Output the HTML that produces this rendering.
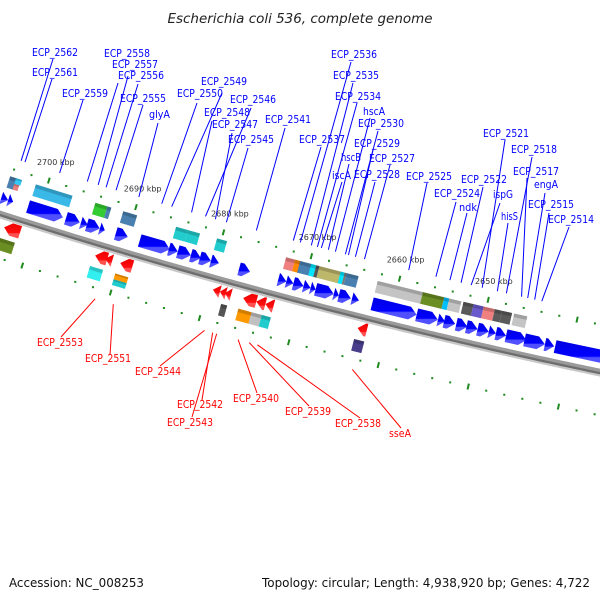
<!DOCTYPE html>
<html><head><meta charset="utf-8"><title>Escherichia coli 536 genome map</title>
<style>
html,body{margin:0;padding:0;background:#fff;}
svg{display:block;}
text{font-family:"DejaVu Sans","Liberation Sans",sans-serif;}
</style></head>
<body>
<svg id="map" width="600" height="600" viewBox="0 0 600 600" xmlns="http://www.w3.org/2000/svg">
<rect width="600" height="600" fill="#fff"/>
<text x="300" y="23" text-anchor="middle" font-size="13" font-style="italic" fill="#222" textLength="265" lengthAdjust="spacingAndGlyphs">Escherichia coli 536, complete genome</text>
<text x="9" y="587" font-size="12" fill="#111" textLength="135" lengthAdjust="spacingAndGlyphs">Accession: NC_008253</text>
<text x="590" y="587" text-anchor="end" font-size="12" fill="#111" textLength="328" lengthAdjust="spacingAndGlyphs">Topology: circular; Length: 4,938,920 bp; Genes: 4,722</text>
<g id="axisG"></g>
<g id="tickG"></g>
<g id="featG"></g>
<g id="labelG"></g>
</svg>
<script>
// ---- data (positions in kbp) ----
const tickStart = 2636;
const tickEnd = 2704;
const tickLabels = [2700, 2690, 2680, 2670, 2660, 2650];

const fwdGenes = [[2704.40,2703.60],[2703.60,2703.03],[2701.32,2697.33],[2696.99,2695.40],[2695.28,2694.49],[2694.60,2693.12],[2693.12,2692.55],[2691.30,2689.93],[2688.57,2685.15],[2685.26,2684.24],[2684.24,2682.76],[2682.76,2681.62],[2681.73,2680.48],[2680.48,2679.57],[2677.29,2676.04],[2672.85,2671.94],[2671.94,2671.14],[2671.14,2670.00],[2670.00,2669.20],[2669.20,2668.63],[2668.63,2666.58],[2666.58,2666.01],[2666.01,2664.65],[2664.53,2663.74],[2662.26,2657.25],[2657.25,2654.86],[2654.86,2654.05],[2654.17,2652.92],[2652.80,2651.55],[2651.66,2650.41],[2650.41,2649.16],[2649.16,2648.36],[2648.36,2647.22],[2647.22,2644.94],[2645.15,2642.87],[2642.87,2641.84],[2641.73,2634.10]];

const revGenes = [[2703.12,2701.30],[2692.76,2691.39],[2691.62,2690.82],[2689.91,2688.54],[2679.43,2678.63],[2678.63,2677.95],[2678.06,2677.38],[2676.01,2674.53],[2674.53,2673.51],[2673.51,2672.60],[2663.15,2662.12]];

// [start, end, color, row]  row: 0 full, 1 top half, 2 bottom half
const fwdBoxes = [[2704.19,2703.39,"#4a7fb0",0],[2703.51,2702.82,"#30c8f5",1],[2703.51,2702.94,"#e88080",2],[2701.23,2697.02,"#3ab8e8",0],[2694.40,2693.03,"#33cc33",0],[2693.03,2692.57,"#4a80b0",0],[2691.21,2689.62,"#4a80b0",0],[2685.17,2683.80,"#22cccc",0],[2683.80,2682.44,"#22cccc",0],[2680.50,2679.36,"#22cccc",0],[2672.65,2671.63,"#f08080",0],[2671.63,2670.94,"#ff8800",0],[2671.06,2669.69,"#4a80b0",0],[2669.80,2669.23,"#00e5ff",0],[2669.23,2668.86,"#555555",0],[2668.86,2666.24,"#bdb76b",0],[2666.47,2666.01,"#00e5ff",0],[2666.01,2665.79,"#777777",0],[2665.79,2664.43,"#4a80b0",0],[2662.28,2657.04,"#c4c4c4",0],[2657.16,2654.76,"#6b8e23",0],[2654.76,2654.19,"#00bfff",0],[2654.19,2652.82,"#c4c4c4",0],[2652.59,2651.45,"#5a5a5a",0],[2651.45,2650.31,"#6a5acd",0],[2650.31,2649.06,"#f08080",0],[2649.06,2648.26,"#5a5a5a",0],[2648.26,2647.12,"#5a5a5a",0],[2646.89,2645.41,"#c4c4c4",0]];

const revBoxes = [[2703.44,2701.50,"#6b8e23",0],[2692.96,2691.48,"#33eeee",0],[2690.11,2688.63,"#ff9900",1],[2690.11,2688.63,"#22cccc",2],[2678.15,2677.47,"#555555",0],[2676.21,2674.72,"#ff9900",0],[2674.72,2673.58,"#c0c0c0",0],[2673.58,2672.56,"#22cccc",0],[2663.23,2662.09,"#483d8b",0]];

// [text, textX, baselineY, lineStartX, lineStartY, featureKbp, textWidth]
const fwdLabels = [["ECP_2562",32,56,53,59,2703.56,46],["ECP_2561",32,76,52,79,2703.11,46],["ECP_2559",62,97,83,100,2699.12,46],["ECP_2558",104,57,118,83,2695.93,46],["ECP_2557",112,68,128,76,2694.68,46],["ECP_2556",118,79,138,84,2693.77,46],["ECP_2555",120,102,143,105,2692.63,46],["glyA",149,118,158,123,2690.01,21],["ECP_2550",177,97,197,103,2687.39,46],["ECP_2549",201,85,222,93,2686.25,46],["ECP_2546",230,103,251,108,2682.38,46],["ECP_2548",204,116,212,121,2683.97,46],["ECP_2547",212,128,232,133,2681.24,46],["ECP_2545",228,143,248,148,2679.99,46],["ECP_2541",265,123,285,128,2676.57,46],["ECP_2536",331,58,351,62,2671.56,46],["ECP_2535",333,79,353,83,2670.31,46],["ECP_2534",335,100,357,103,2669.62,46],["hscA",363,115,370,118,2667.57,22],["ECP_2530",358,127,378,131,2666.44,46],["ECP_2537",299,143,321,147,2672.36,46],["ECP_2529",354,147,373,150,2666.09,46],["hscB",341,161,349,164,2668.37,20],["ECP_2527",369,162,390,165,2664.27,46],["iscA",332,179,342,182,2669.17,19],["ECP_2528",354,178,375,182,2665.30,46],["ECP_2525",406,180,427,183,2659.25,46],["ECP_2524",434,197,456,202,2656.18,46],["ndk",459,211,467,213,2654.59,18],["ECP_2522",461,183,483,187,2653.33,46],["ispG",493,198,500,203,2652.19,20],["ECP_2521",483,137,505,140,2650.94,46],["hisS",501,220,508,223,2649.23,17],["ECP_2518",511,153,532,157,2648.21,46],["ECP_2517",513,175,527,178,2646.50,46],["engA",534,188,545,193,2645.81,24],["ECP_2515",528,208,549,213,2645.02,46],["ECP_2514",548,223,569,227,2644.22,46]];

const revLabels = [["ECP_2553",37,346,61,337,2691.42,46],["ECP_2551",85,362,110,355,2689.37,46],["ECP_2544",135,375,160,366,2679.12,46],["ECP_2542",177,408,202,400,2678.21,46],["ECP_2543",167,426,192,417,2677.76,46],["ECP_2540",233,402,257,393,2675.36,46],["ECP_2539",285,415,309,406,2674.11,46],["ECP_2538",335,427,360,418,2673.20,46],["sseA",389,437,401,428,2662.61,22]];

// ---- geometry ----
const CX = 1817, CY = -5465, RL = 5960.5;
function psi(p){ return (12.98 + (p - 2650) * 0.0882) * Math.PI / 180; }
function P(p, o){ const a = psi(p), r = RL + o; return [CX - r * Math.sin(a), CY + r * Math.cos(a)]; }
function pts(list){ return list.map(q => q[0].toFixed(2) + "," + q[1].toFixed(2)).join(" "); }
const NS = "http://www.w3.org/2000/svg";
function mk(tag, attrs, parent){ const e = document.createElementNS(NS, tag); for (const k in attrs) e.setAttribute(k, attrs[k]); parent.appendChild(e); return e; }
function arcPath(o, p1, p2){ let d = ""; for (let p = p1; p >= p2; p -= 0.5){ const q = P(p, o); d += (d ? "L" : "M") + q[0].toFixed(2) + "," + q[1].toFixed(2); } return d; }

const axisG = document.getElementById("axisG");
const tickG = document.getElementById("tickG");
const featG = document.getElementById("featG");
const labelG = document.getElementById("labelG");

// axis band
let el;
el = mk("path", {d: arcPath(5.5, 2712, 2628), stroke: "#c8c8c8", "stroke-width": 2, fill: "none"}, axisG);


el = mk("path", {d: arcPath(0.5, 2712, 2628), stroke: "#9a9a9a", "stroke-width": 3.5, fill: "none"}, axisG);


el = mk("path", {d: arcPath(3.2, 2712, 2628), stroke: "#6e6e6e", "stroke-width": 2.4, fill: "none"}, axisG);



// ticks
for (let p = tickStart; p <= tickEnd; p += 2){
  for (const side of [-44.5, 44.5]){
    if (p % 10 === 0){
      const a = P(p, side - 3), b = P(p, side + 3);
      el = mk("line", {x1: a[0], y1: a[1], x2: b[0], y2: b[1], stroke: "#1f8a1f", "stroke-width": 2}, tickG);
      
      
    } else {
      const c = P(p, side);
      el = mk("rect", {x: c[0] - 1, y: c[1] - 1, width: 2, height: 2, fill: "#1f8a1f"}, tickG);
      
      
    }
  }
}
tickLabels.forEach(p => {
  const c = P(p, -61);
  el = mk("text", {x: c[0] + 2, y: c[1], "text-anchor": "middle", "font-size": 8, fill: "#333"}, tickG);
  el.textContent = p + " kbp";
  
  
});

// gradients
const defs = mk("defs", {}, document.getElementById("map"));
function grad(id, c1, c2, c3){
  const g = mk("linearGradient", {id: id, x1: 0, y1: 0, x2: 0, y2: 1}, defs);
  mk("stop", {offset: "0", "stop-color": c1}, g);
  mk("stop", {offset: "0.62", "stop-color": c2}, g);
  mk("stop", {offset: "0.68", "stop-color": c3}, g);
  mk("stop", {offset: "1", "stop-color": c3}, g);
}
grad("gBlue", "#0000e0", "#0000ff", "#5050ff");
grad("gRed", "#ee0000", "#ff1010", "#ff5050");

function arrow(s, e, o1, o2, fwd, fill, name){
  const len = s - e, h = Math.min(0.8, len), m = (o1 + o2) / 2;
  let poly;
  if (fwd){
    poly = len <= 0.8 ? [P(s,o1), P(e,m), P(s,o2)] : [P(s,o1), P(e+h,o1), P(e,m), P(e+h,o2), P(s,o2)];
  } else {
    poly = len <= 0.8 ? [P(e,o1), P(s,m), P(e,o2)] : [P(e,o1), P(s-h,o1), P(s,m), P(s-h,o2), P(e,o2)];
  }
  el = mk("polygon", {points: pts(poly), fill: fill}, featG);
  
  
}
function box(s, e, o1, o2, color, name){
  el = mk("polygon", {points: pts([P(s,o1), P(e,o1), P(e,o2), P(s,o2)]), fill: color}, featG);
  
  
  const t = o1 + (o2 - o1) * 0.3;
  el = mk("polygon", {points: pts([P(s,o1), P(e,o1), P(e,t), P(s,t)]), fill: "#000", "fill-opacity": 0.18}, featG);
  
  
}
function rowRange(base1, base2, row){
  if (row === 0) return [base1, base2];
  const mid = (base1 + base2) / 2;
  return row === 1 ? [base1, mid] : [mid, base2];
}

fwdGenes.forEach(g => arrow(g[0], g[1], -20, -7, true, "url(#gBlue)", "forward-gene"));
revGenes.forEach(g => arrow(g[0], g[1], 7, 20, false, "url(#gRed)", "reverse-gene"));
fwdBoxes.forEach(b => { const r = rowRange(-37, -25, b[3]); box(b[0], b[1], r[0], r[1], b[2], "forward-feature-box"); });
revBoxes.forEach(b => { const r = rowRange(25, 37, b[3]); box(b[0], b[1], r[0], r[1], b[2], "reverse-feature-box"); });

// labels
function labels(list, side, color, name){
  list.forEach(L => {
    const end = P(L[5], side);
    el = mk("line", {x1: L[3], y1: L[4], x2: end[0].toFixed(2), y2: end[1].toFixed(2), stroke: color, "stroke-width": 1}, labelG);
    
    
  });
  list.forEach(L => {
    el = mk("text", {x: L[1], y: L[2], "font-size": 11, fill: color, textLength: L[6], lengthAdjust: "spacingAndGlyphs"}, labelG);
    el.textContent = L[0];
    
    
  });
}
labels(fwdLabels, -55, "#0000ff", "forward-gene-label");
labels(revLabels, 55, "#ff0000", "reverse-gene-label");
</script>
</body></html>
